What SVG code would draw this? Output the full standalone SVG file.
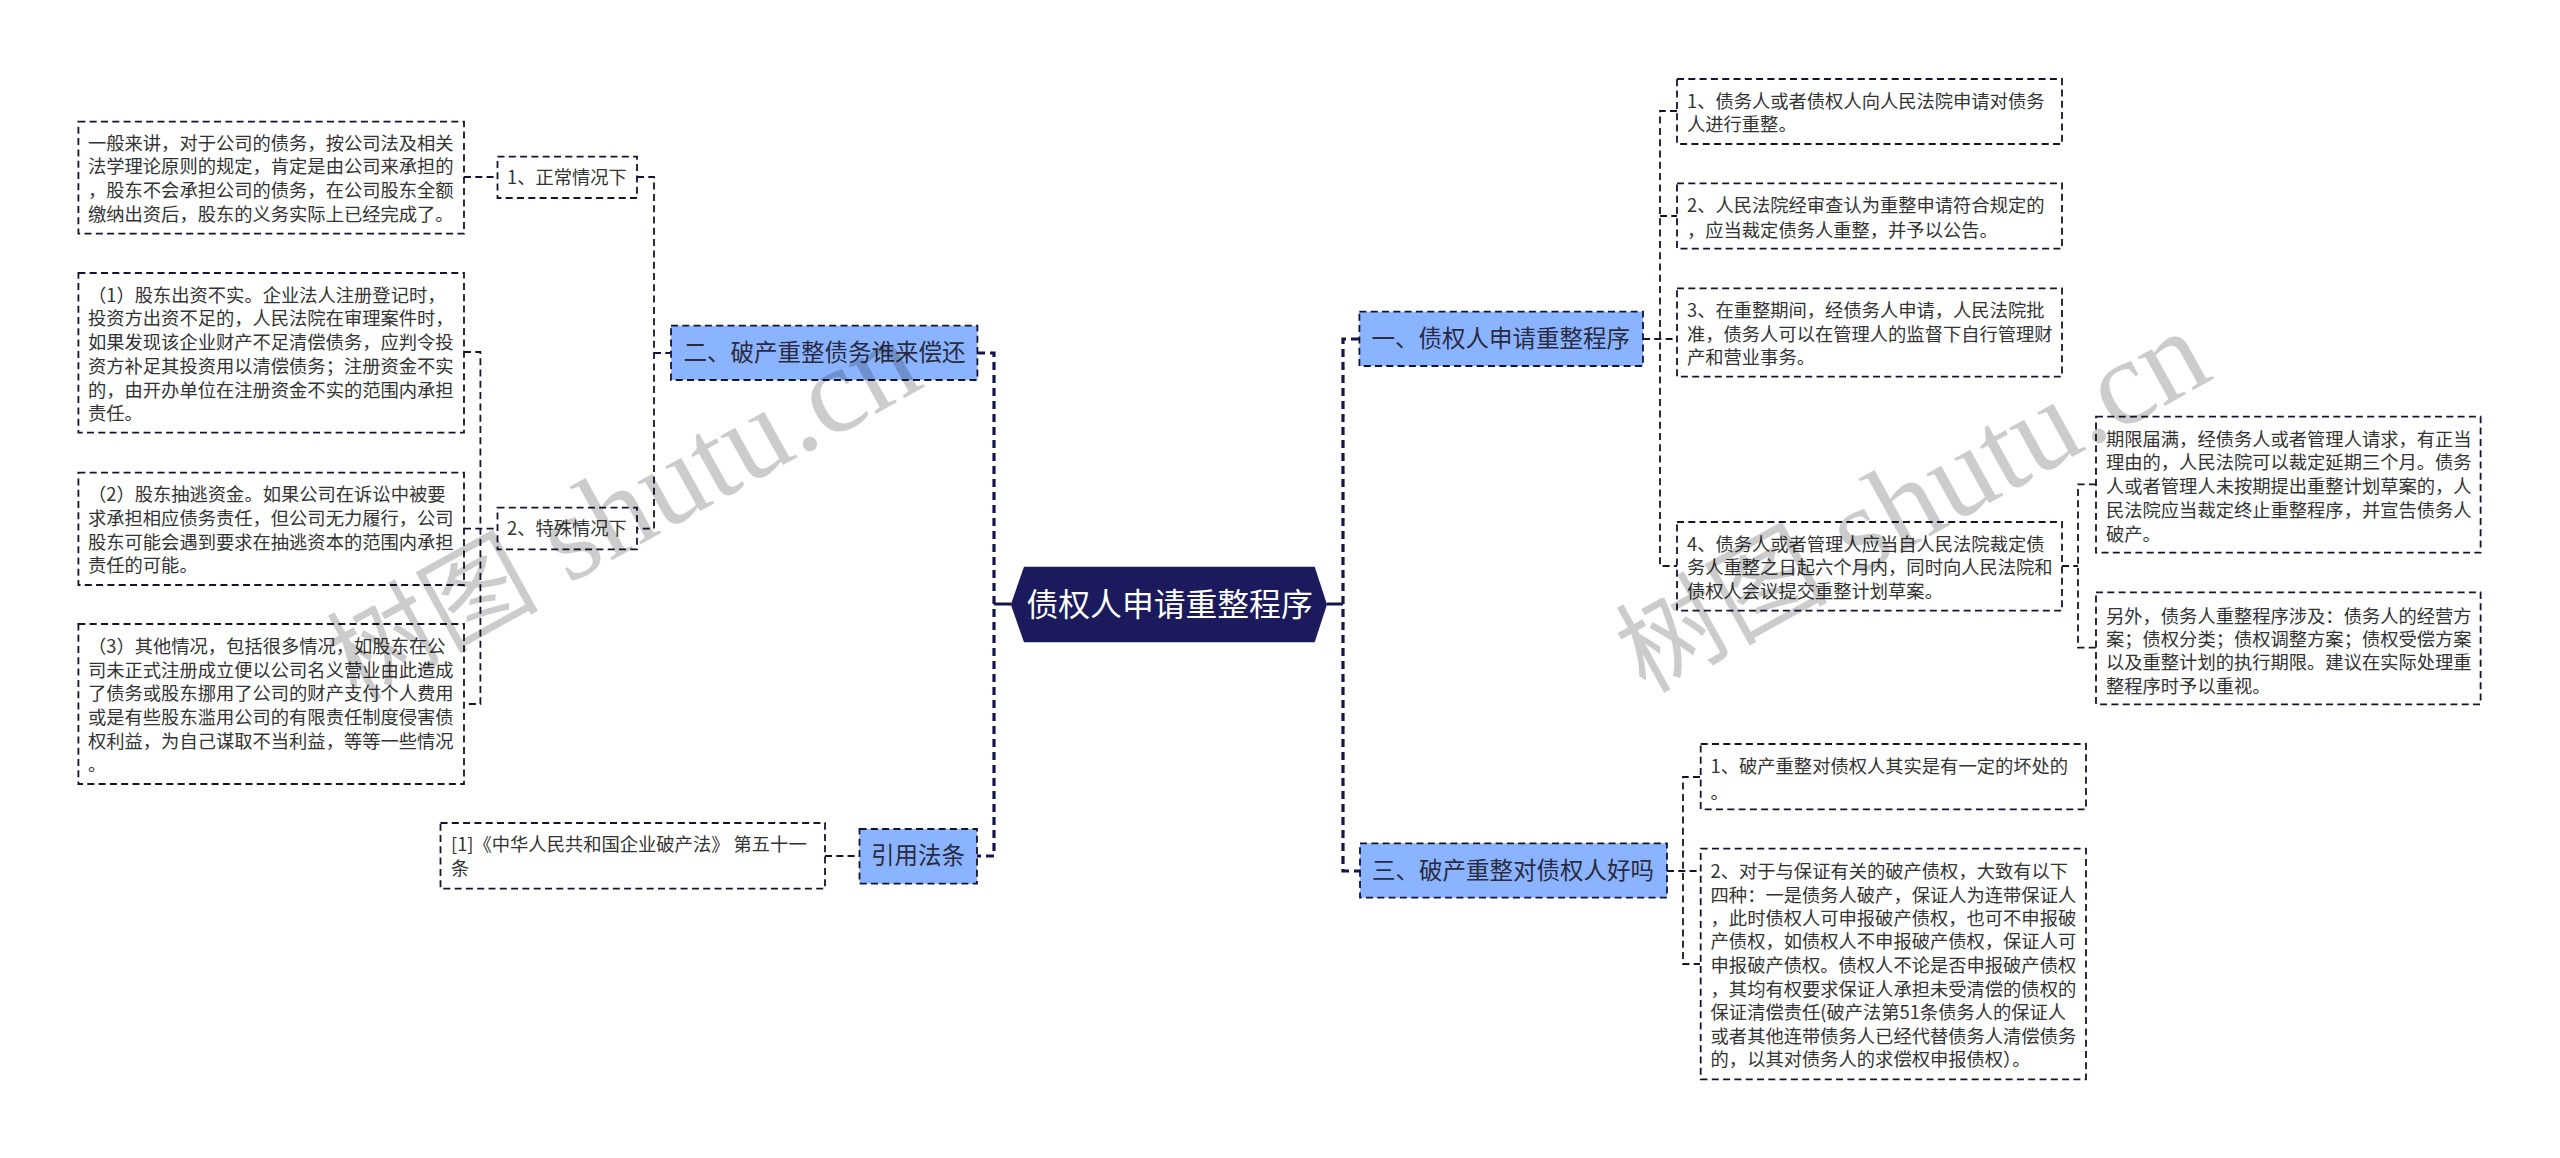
<svg xmlns="http://www.w3.org/2000/svg" width="2560" height="1158" viewBox="0 0 2560 1158">
<style>
text{font-family:"Noto Sans CJK SC","Liberation Sans",sans-serif}
.box{fill:#fff;stroke:#141430;stroke-width:1.8;stroke-dasharray:7 4.3}
.topic{fill:#8ab4ff;stroke:#141430;stroke-width:1.8;stroke-dasharray:7 4.3}
.t{font-size:18.3px;fill:#333}
.h{font-size:23.5px;fill:#2a2a40}
.c{fill:none;stroke:#141430;stroke-width:1.8;stroke-dasharray:7 4.3}
.c2{fill:none;stroke:#14144e;stroke-width:3.2;stroke-dasharray:8 5}
.c3{fill:none;stroke:#14144e;stroke-width:3.2}
.wm{font-family:"Liberation Serif","Noto Sans CJK SC",serif;fill:#000;fill-opacity:.2}
.wa{font-size:106px}
.wb{font-size:122px}
</style>
<rect width="2560" height="1158" fill="#fff"/>
<g id="connectors">
<path class="c3" d="M994 604H1011M1327 604H1343"/>
<path class="c2" d="M977 353H994V856H977"/>
<path class="c2" d="M1359 339H1343V871H1360"/>
<path class="c" d="M637 177H654V528.700H637M654 353H671"/>
<path class="c" d="M464 177H497"/>
<path class="c" d="M464 352H480.400V704H464M464 528.700H497"/>
<path class="c" d="M825 856H859"/>
<path class="c" d="M1677 111H1660V566H1677M1643 339H1677M1660 216H1677"/>
<path class="c" d="M2062 566H2078M2096 484.300H2078V647.700H2096"/>
<path class="c" d="M1700 777H1683V964H1700M1667 871H1700"/>
</g>
<g id="root"><path d="M1024 566.700H1314.700L1327 604.500L1314.700 642.300H1024L1010.800 604.500Z" fill="#1a1a5c"/><text x="1026.500" y="615.500" font-size="31.800px" fill="#fff">债权人申请重整程序</text></g>
<g id="n-er"><rect class="topic" x="671" y="325.700" width="306.400" height="54.300"/><text class="h" x="683.600" y="361">二、破产重整债务谁来偿还</text></g>
<g id="n-yinyong"><rect class="topic" x="859.500" y="829" width="117.500" height="54.700"/><text class="h" x="871" y="864">引用法条</text></g>
<g id="n-yi"><rect class="topic" x="1359.400" y="311.700" width="283.600" height="54.300"/><text class="h" x="1371.500" y="347">一、债权人申请重整程序</text></g>
<g id="n-san"><rect class="topic" x="1360" y="843.300" width="307" height="54.400"/><text class="h" x="1372" y="879">三、破产重整对债权人好吗</text></g>
<g id="n-zc"><rect class="box" x="497.500" y="156.700" width="139.500" height="41.300"/><text class="t" x="507" y="183.500">1、正常情况下</text></g>
<g id="n-ts"><rect class="box" x="497.500" y="507.700" width="139.500" height="41.600"/><text class="t" x="507" y="535">2、特殊情况下</text></g>
<g id="n-a"><rect class="box" x="78.400" y="121.700" width="385.600" height="112"/><text class="t"><tspan x="88" y="149.500">一般来讲，对于公司的债务，按公司法及相关</tspan><tspan x="88" y="173">法学理论原则的规定，肯定是由公司来承担的</tspan><tspan x="88" y="196.500">，股东不会承担公司的债务，在公司股东全额</tspan><tspan x="88" y="220.500">缴纳出资后，股东的义务实际上已经完成了。</tspan></text></g>
<g id="n-b"><rect class="box" x="78.400" y="273" width="385.600" height="159.700"/><text class="t"><tspan x="88" y="301.500">（1）股东出资不实。企业法人注册登记时，</tspan><tspan x="88" y="324.500">投资方出资不足的，人民法院在审理案件时，</tspan><tspan x="88" y="348.500">如果发现该企业财产不足清偿债务，应判令投</tspan><tspan x="88" y="372.500">资方补足其投资用以清偿债务；注册资金不实</tspan><tspan x="88" y="396.500">的，由开办单位在注册资金不实的范围内承担</tspan><tspan x="88" y="419.500">责任。</tspan></text></g>
<g id="n-c"><rect class="box" x="78.400" y="472.700" width="385.600" height="112.300"/><text class="t"><tspan x="88" y="500.500">（2）股东抽逃资金。如果公司在诉讼中被要</tspan><tspan x="88" y="524.500">求承担相应债务责任，但公司无力履行，公司</tspan><tspan x="88" y="548.500">股东可能会遇到要求在抽逃资本的范围内承担</tspan><tspan x="88" y="571.500">责任的可能。</tspan></text></g>
<g id="n-d"><rect class="box" x="78.400" y="624" width="385.600" height="160"/><text class="t"><tspan x="88" y="652.500">（3）其他情况，包括很多情况，如股东在公</tspan><tspan x="88" y="676.500">司未正式注册成立便以公司名义营业由此造成</tspan><tspan x="88" y="699.500">了债务或股东挪用了公司的财产支付个人费用</tspan><tspan x="88" y="723.500">或是有些股东滥用公司的有限责任制度侵害债</tspan><tspan x="88" y="747.500">权利益，为自己谋取不当利益，等等一些情况</tspan><tspan x="88" y="771">。</tspan></text></g>
<g id="n-cite"><rect class="box" x="440.500" y="823" width="384.500" height="65.700"/><text class="t"><tspan x="451" y="851">[1]《中华人民共和国企业破产法》 第五十一</tspan><tspan x="451" y="874.500">条</tspan></text></g>
<g id="n-r1"><rect class="box" x="1677" y="79" width="385" height="65"/><text class="t"><tspan x="1687" y="108">1、债务人或者债权人向人民法院申请对债务</tspan><tspan x="1687" y="130.500">人进行重整。</tspan></text></g>
<g id="n-r2"><rect class="box" x="1677" y="183.300" width="385" height="65.400"/><text class="t"><tspan x="1687" y="212">2、人民法院经审查认为重整申请符合规定的</tspan><tspan x="1687" y="236.500">，应当裁定债务人重整，并予以公告。</tspan></text></g>
<g id="n-r3"><rect class="box" x="1677" y="288.300" width="385" height="88.400"/><text class="t"><tspan x="1687" y="317">3、在重整期间，经债务人申请，人民法院批</tspan><tspan x="1687" y="340.500">准，债务人可以在管理人的监督下自行管理财</tspan><tspan x="1687" y="364">产和营业事务。</tspan></text></g>
<g id="n-r4"><rect class="box" x="1677" y="522" width="385" height="88.700"/><text class="t"><tspan x="1687" y="550.500">4、债务人或者管理人应当自人民法院裁定债</tspan><tspan x="1687" y="574">务人重整之日起六个月内，同时向人民法院和</tspan><tspan x="1687" y="598">债权人会议提交重整计划草案。</tspan></text></g>
<g id="n-r5"><rect class="box" x="2096" y="416.700" width="384.600" height="136"/><text class="t"><tspan x="2106" y="445.500">期限届满，经债务人或者管理人请求，有正当</tspan><tspan x="2106" y="469">理由的，人民法院可以裁定延期三个月。债务</tspan><tspan x="2106" y="493">人或者管理人未按期提出重整计划草案的，人</tspan><tspan x="2106" y="516.500">民法院应当裁定终止重整程序，并宣告债务人</tspan><tspan x="2106" y="540.500">破产。</tspan></text></g>
<g id="n-r6"><rect class="box" x="2096" y="592.300" width="384.600" height="112"/><text class="t"><tspan x="2106" y="622.500">另外，债务人重整程序涉及：债务人的经营方</tspan><tspan x="2106" y="645.500">案；债权分类；债权调整方案；债权受偿方案</tspan><tspan x="2106" y="669">以及重整计划的执行期限。建议在实际处理重</tspan><tspan x="2106" y="692.500">整程序时予以重视。</tspan></text></g>
<g id="n-r7"><rect class="box" x="1700.700" y="744" width="385.300" height="65.300"/><text class="t"><tspan x="1710.600" y="772.500">1、破产重整对债权人其实是有一定的坏处的</tspan><tspan x="1710.600" y="799">。</tspan></text></g>
<g id="n-r8"><rect class="box" x="1700.700" y="848.700" width="385.300" height="230.600"/><text class="t"><tspan x="1710.600" y="877.500">2、对于与保证有关的破产债权，大致有以下</tspan><tspan x="1710.600" y="901.500">四种：一是债务人破产，保证人为连带保证人</tspan><tspan x="1710.600" y="924.800">，此时债权人可申报破产债权，也可不申报破</tspan><tspan x="1710.600" y="948.200">产债权，如债权人不申报破产债权，保证人可</tspan><tspan x="1710.600" y="971.500">申报破产债权。债权人不论是否申报破产债权</tspan><tspan x="1710.600" y="995.800">，其均有权要求保证人承担未受清偿的债权的</tspan><tspan x="1710.600" y="1019.200">保证清偿责任(破产法第51条债务人的保证人</tspan><tspan x="1710.600" y="1042.500">或者其他连带债务人已经代替债务人清偿债务</tspan><tspan x="1710.600" y="1065.800">的，以其对债务人的求偿权申报债权）。</tspan></text></g>
<g id="watermarks">
<text class="wm" transform="translate(356 702) rotate(-29)"><tspan class="wa">树图</tspan><tspan class="wb"> shutu.cn</tspan></text>
<text class="wm" transform="translate(1645 694) rotate(-29)"><tspan class="wa">树图</tspan><tspan class="wb"> shutu.cn</tspan></text>
</g>
</svg>
